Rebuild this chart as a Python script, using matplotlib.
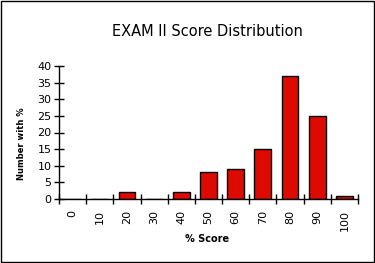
# IMPORTS
import matplotlib
matplotlib.use("Agg")
import matplotlib.pyplot as plt
from matplotlib.patches import Rectangle

# DATA
SCORES = ["0", "10", "20", "30", "40", "50", "60", "70", "80", "90", "100"]
COUNTS = [0, 0, 2, 0, 2, 8, 9, 15, 37, 25, 1]
Y_TICKS = [0, 5, 10, 15, 20, 25, 30, 35, 40]

# CONSTANTS
WIDTH = 375
HEIGHT = 263
DPI = 100
BAR_RED = "#dd0a00"

# MAIN CODE
fig = plt.figure(figsize=(WIDTH / DPI, HEIGHT / DPI), dpi=DPI, facecolor="white")
ax = fig.add_axes([59 / WIDTH, 64 / HEIGHT, 299 / WIDTH, 133 / HEIGHT])

positions = list(range(len(SCORES)))
ax.bar(positions, COUNTS, width=0.62, color=BAR_RED, edgecolor="black", linewidth=1)

ax.set_xlim(-0.5, len(SCORES) - 0.5)
ax.set_ylim(0, 40)

# Ticks sit on category boundaries, labels in the middle
ax.set_xticks([p - 0.5 for p in positions] + [len(SCORES) - 0.5])
ax.set_xticklabels([])
ax.set_xticks(positions, minor=True)
ax.set_xticklabels(SCORES, minor=True, rotation=90, fontsize=8)
ax.tick_params(axis="x", which="major", direction="inout", length=7, width=1)
ax.tick_params(axis="x", which="minor", length=0, pad=8)

ax.set_yticks(Y_TICKS)
ax.set_yticklabels([str(v) for v in Y_TICKS], fontsize=8)
ax.tick_params(axis="y", direction="inout", length=7, width=1, pad=2)

for side in ["top", "right"]:
    ax.spines[side].set_visible(False)
for side in ["left", "bottom"]:
    ax.spines[side].set_linewidth(1)

fig.text(207 / WIDTH, 1 - 31 / HEIGHT, "EXAM II Score Distribution", ha="center", va="center", fontsize=10.5)
fig.text(22 / WIDTH, 1 - 144 / HEIGHT, "Number with %", ha="center", va="center", rotation=90,
         fontsize=6, fontweight="bold")
fig.text(207 / WIDTH, 1 - 239 / HEIGHT, "% Score", ha="center", va="center", fontsize=7, fontweight="bold")

# Outer frame
fig.patches.append(Rectangle((0.002, 0.003), 0.994, 0.992, transform=fig.transFigure,
                             fill=False, edgecolor="black", linewidth=1))

fig.savefig("out.png", dpi=DPI)
